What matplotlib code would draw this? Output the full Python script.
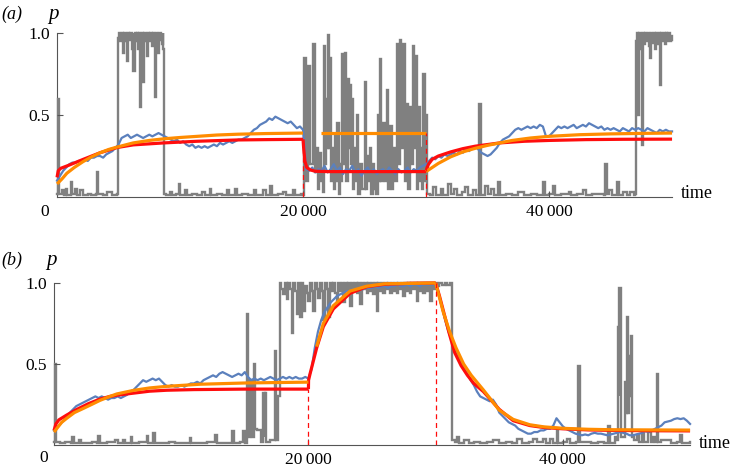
import os
import numpy as np
import matplotlib
matplotlib.use("Agg")
import matplotlib.pyplot as plt
from matplotlib import font_manager as fm

FONT_DIR = '/usr/share/fonts/truetype/liberation/'


def serif(size, italic=False):
    fname = FONT_DIR + ('LiberationSerif-Italic.ttf' if italic else 'LiberationSerif-Regular.ttf')
    if os.path.exists(fname):
        return fm.FontProperties(fname=fname, size=size)
    return fm.FontProperties(family='serif', style='italic' if italic else 'normal', size=size)


# ---- data ----
x_ticks = [20000, 40000]
x_tick_labels = ['20\u2009000', '40\u2009000']
y_ticks = [0.5, 1.0]
y_tick_labels = ['0.5', '1.0']
switch_times = [20000, 30000]

# gray raw signal, panel (a): (time, p), each value held until the next time
gray_a = [
    (0, 0.02), (60, 0.60), (140, 0.02), (400, 0.04), (550, 0.01), (700, 0.05), (850, 0.01),
    (1100, 0.01), (1170, 0.09), (1250, 0.02), (1500, 0.05), (1650, 0.01), (1900, 0.04), (2100, 0.01),
    (2500, 0.02), (2800, 0.01), (3150, 0.02), (3230, 0.15), (3320, 0.02), (3700, 0.01), (4100, 0.03),
    (4500, 0.01), (4800, 0.01),
    (4880, 0.02), (4960, 0.97), (5050, 1.0), (5150, 0.95), (5250, 1.0), (5393, 0.88), (5480, 1.0),
    (5570, 0.95), (5664, 0.83), (5750, 1.0), (5850, 0.96), (5950, 1.0), (6070, 0.9), (6150, 1.0),
    (6206, 0.77), (6300, 1.0), (6400, 0.95), (6500, 1.0), (6612, 0.9), (6680, 1.0), (6748, 0.55),
    (6830, 0.96), (6920, 1.0), (7019, 0.7), (7100, 1.0), (7200, 0.95), (7290, 0.86), (7380, 1.0),
    (7480, 0.95), (7580, 1.0), (7697, 0.92), (7780, 1.0), (7880, 0.96), (7967, 0.61), (8050, 1.0),
    (8150, 0.95), (8238, 0.88), (8330, 1.0), (8430, 0.96), (8509, 0.93), (8580, 1.0), (8640, 0.9),
    (8700, 0.02),
    (8900, 0.01), (9200, 0.03), (9350, 0.01), (9700, 0.02), (9900, 0.08), (10000, 0.01), (10400, 0.04),
    (10600, 0.01), (11000, 0.02), (11400, 0.01), (11800, 0.03), (12000, 0.01), (12400, 0.05),
    (12550, 0.01), (13000, 0.02), (13400, 0.01), (13800, 0.04), (14000, 0.01), (14500, 0.05),
    (14650, 0.01), (15000, 0.02), (15500, 0.01), (16000, 0.04), (16200, 0.01), (16780, 0.04),
    (17000, 0.01), (17320, 0.07), (17450, 0.01), (18000, 0.02), (18400, 0.03), (18600, 0.01),
    (19200, 0.04), (19350, 0.01), (19800, 0.02), (20000, 0.01),
    (20100, 0.85), (20250, 0.1), (20400, 0.80), (20570, 0.2), (20840, 0.93), (20950, 0.15),
    (21111, 0.3), (21200, 0.05), (21301, 0.27), (21420, 0.1), (21520, 0.15), (21600, 0.03),
    (21707, 0.92), (21800, 0.2), (21870, 0.6), (21960, 0.3), (22060, 0.99), (22130, 0.3),
    (22195, 0.85), (22300, 0.1), (22412, 0.3), (22500, 0.05), (22601, 0.37), (22700, 0.1),
    (22791, 0.45), (22900, 0.02), (23008, 0.2), (23080, 0.1), (23143, 0.87), (23210, 0.3),
    (23279, 0.6), (23350, 0.2), (23414, 0.88), (23500, 0.1), (23685, 0.72), (23750, 0.3),
    (23821, 0.68), (23890, 0.2), (23956, 0.6), (24050, 0.05), (24146, 0.3), (24250, 0.1),
    (24363, 0.5), (24500, 0.02), (24634, 0.2), (24800, 0.05), (25040, 0.70), (25130, 0.05),
    (25230, 0.25), (25350, 0.1), (25447, 0.3), (25560, 0.02), (25664, 0.2), (25760, 0.05),
    (25853, 0.14), (25950, 0.02), (26070, 0.5), (26160, 0.1), (26260, 0.84), (26350, 0.1),
    (26531, 0.45), (26650, 0.1), (26802, 0.65), (26900, 0.05), (27073, 0.43), (27200, 0.05),
    (27344, 0.3), (27480, 0.1), (27615, 0.93), (27750, 0.2), (27886, 0.96), (28000, 0.3),
    (28157, 0.93), (28280, 0.1), (28428, 0.57), (28550, 0.05), (28699, 0.55), (28830, 0.2),
    (28970, 0.92), (29060, 0.3), (29160, 0.86), (29260, 0.05), (29377, 0.55), (29470, 0.1),
    (29566, 0.3), (29680, 0.05), (29783, 0.75), (29900, 0.1), (30000, 0.5), (30050, 0.02),
    (30300, 0.01), (30600, 0.06), (30800, 0.01), (31200, 0.05), (31400, 0.01), (31800, 0.08),
    (32000, 0.02), (32300, 0.05), (32500, 0.01), (32900, 0.03), (33200, 0.06), (33400, 0.01),
    (33800, 0.04), (34100, 0.01), (34330, 0.57), (34450, 0.01), (34800, 0.07), (35000, 0.02),
    (35300, 0.05), (35500, 0.01), (35880, 0.09), (36000, 0.01), (36500, 0.02), (37000, 0.01),
    (37500, 0.03), (38000, 0.01), (38500, 0.02), (39000, 0.01), (39540, 0.09), (39650, 0.01),
    (40000, 0.02), (40350, 0.07), (40450, 0.01), (41000, 0.02), (41600, 0.03), (41800, 0.01),
    (42300, 0.02), (42800, 0.04), (43000, 0.01), (43500, 0.02), (44000, 0.02), (44500, 0.01),
    (44580, 0.20), (44680, 0.02), (44900, 0.04), (45100, 0.01), (45500, 0.09), (45650, 0.01),
    (46000, 0.03), (46300, 0.01), (46600, 0.03), (46900, 0.01),
    (47000, 0.02), (47070, 0.95), (47150, 1.0), (47250, 0.5), (47350, 1.0), (47450, 0.9),
    (47530, 0.32), (47620, 1.0), (47720, 0.93), (47820, 1.0), (47920, 0.95), (48020, 1.0),
    (48110, 0.92), (48210, 0.85), (48300, 1.0), (48400, 0.94), (48500, 1.0), (48600, 0.9),
    (48700, 1.0), (48800, 0.93), (48900, 1.0), (49020, 0.68), (49120, 1.0), (49220, 0.95),
    (49320, 1.0), (49420, 0.93), (49520, 1.0), (49620, 0.95), (49700, 1.0), (49800, 0.95),
    (49900, 0.98), (50000, 0.96),
]

# gray raw signal, panel (b)
gray_b = [
    (0, 0.02), (80, 0.5), (180, 0.02), (500, 0.01), (900, 0.02), (1300, 0.01), (1440, 0.05),
    (1550, 0.01), (1990, 0.03), (2100, 0.01), (2600, 0.01), (3000, 0.02), (3400, 0.01),
    (3490, 0.055), (3600, 0.01), (4200, 0.02), (4800, 0.03), (5000, 0.01), (5400, 0.03),
    (5600, 0.01), (6020, 0.05), (6150, 0.01), (6700, 0.02), (7290, 0.055), (7400, 0.01),
    (7810, 0.076), (7950, 0.01), (8500, 0.01), (9000, 0.02), (9500, 0.01), (10200, 0.01),
    (10690, 0.045), (10800, 0.01), (11500, 0.01), (12000, 0.02), (12650, 0.06), (12780, 0.01),
    (13400, 0.01), (14020, 0.086), (14150, 0.01), (14600, 0.02), (14880, 0.086), (14980, 0.01),
    (15150, 0.81), (15280, 0.05), (15400, 0.4), (15540, 0.05), (15700, 0.5), (15800, 0.1),
    (15930, 0.09), (16190, 0.09), (16300, 0.02), (16450, 0.32), (16550, 0.05), (16600, 0.32),
    (16700, 0.02), (17000, 0.03), (17240, 0.03), (17370, 0.58), (17480, 0.03), (17620, 0.3),
    (17760, 1.0), (17880, 0.96), (18020, 0.93), (18150, 1.0), (18290, 0.9), (18400, 1.0),
    (18550, 0.96), (18680, 0.69), (18800, 1.0), (18940, 0.95), (19080, 0.81), (19200, 1.0),
    (19340, 0.79), (19470, 1.0), (19600, 0.83), (19720, 0.98), (19850, 0.94), (19990, 0.89),
    (20120, 1.0), (20250, 0.95), (20380, 0.83), (20500, 1.0), (20640, 0.96), (20780, 0.91),
    (20900, 1.0), (21040, 0.95), (21170, 0.77), (21300, 1.0), (21430, 0.96), (21560, 0.79),
    (21700, 1.0), (21830, 0.95), (21960, 1.0), (22090, 0.94), (22220, 0.89), (22350, 1.0),
    (22480, 0.95), (22610, 1.0), (22740, 0.88), (22870, 1.0), (23000, 0.96), (23130, 1.0),
    (23270, 0.86), (23400, 1.0), (23530, 0.95), (23660, 1.0), (23790, 0.94), (23920, 1.0),
    (24050, 0.87), (24180, 1.0), (24310, 0.96), (24440, 1.0), (24570, 0.94), (24700, 1.0),
    (24830, 0.95), (24960, 1.0), (25100, 0.93), (25230, 1.0), (25360, 0.83), (25490, 1.0),
    (25620, 0.95), (25750, 1.0), (25880, 0.94), (26010, 1.0), (26140, 0.96), (26270, 1.0),
    (26410, 0.94), (26540, 1.0), (26670, 0.95), (26800, 1.0), (26930, 0.94), (27060, 1.0),
    (27190, 0.96), (27320, 1.0), (27450, 0.92), (27580, 1.0), (27710, 0.95), (27840, 1.0),
    (27970, 0.94), (28100, 1.0), (28230, 0.96), (28360, 1.0), (28500, 0.89), (28630, 1.0),
    (28760, 0.95), (28890, 1.0), (29020, 0.94), (29150, 1.0), (29280, 0.95), (29410, 1.0),
    (29550, 0.89), (29680, 1.0), (29810, 0.96), (29940, 1.0), (30100, 0.98), (30300, 1.0),
    (30500, 0.99), (30700, 1.0), (30900, 0.99), (31130, 1.0),
    (31260, 0.03), (31500, 0.02), (31650, 0.05), (31800, 0.01), (32200, 0.03), (32600, 0.01),
    (33000, 0.02), (33500, 0.01), (34000, 0.02), (34530, 0.03), (35000, 0.01), (35500, 0.02),
    (36000, 0.01), (36370, 0.04), (36800, 0.01), (37300, 0.02), (37650, 0.04), (38000, 0.02),
    (38440, 0.04), (38700, 0.01), (38990, 0.04), (39200, 0.01), (39510, 0.09), (39650, 0.01),
    (40000, 0.02), (40300, 0.04), (40600, 0.01), (41000, 0.02), (41210, 0.49), (41340, 0.02),
    (41800, 0.02), (42200, 0.01), (42800, 0.02), (43200, 0.01), (43570, 0.12), (43700, 0.01),
    (44090, 0.05), (44200, 0.03), (44310, 0.73), (44380, 0.3), (44440, 0.97), (44560, 0.05),
    (44700, 0.05), (44880, 0.39), (44940, 0.2), (45010, 0.79), (45120, 0.2), (45220, 0.55),
    (45280, 0.3), (45350, 0.67), (45460, 0.05), (45600, 0.03), (45800, 0.06), (46000, 0.02),
    (46200, 0.07), (46400, 0.02), (46700, 0.08), (46900, 0.02), (47100, 0.05), (47250, 0.02),
    (47370, 0.44), (47480, 0.02), (47700, 0.03), (48150, 0.03), (48500, 0.01), (49000, 0.02),
    (49200, 0.06), (49350, 0.01), (50000, 0.02),
]

# blue running estimate, sampled every 250 time units from 0 to 50000
blue_t = np.arange(0, 50001, 250)
blue_a = [
    0.10, 0.13, 0.16, 0.18, 0.20, 0.21, 0.21, 0.22, 0.22, 0.23, 0.22, 0.24, 0.24, 0.25, 0.25, 0.24, 0.26, 0.27, 0.28, 0.30,
    0.32, 0.36, 0.37, 0.38, 0.36, 0.37, 0.38, 0.37, 0.36, 0.37, 0.38, 0.37, 0.38, 0.39, 0.38, 0.37, 0.36, 0.35, 0.34, 0.35,
    0.33, 0.34, 0.32, 0.31, 0.32, 0.30, 0.31, 0.30, 0.31, 0.30, 0.31, 0.32, 0.31, 0.33, 0.32, 0.33, 0.34, 0.33, 0.34, 0.35,
    0.35, 0.36, 0.37, 0.39, 0.41, 0.42, 0.44, 0.45, 0.46, 0.48, 0.47, 0.49, 0.48, 0.47, 0.46, 0.45, 0.46, 0.44, 0.42, 0.43,
    0.41, 0.17, 0.16, 0.18, 0.15, 0.17, 0.16, 0.19, 0.15, 0.17, 0.20, 0.16, 0.18, 0.14, 0.17, 0.16, 0.19, 0.15, 0.17, 0.13,
    0.16, 0.18, 0.15, 0.17, 0.14, 0.16, 0.17, 0.15, 0.18, 0.16, 0.14, 0.17, 0.15, 0.16, 0.18, 0.15, 0.17, 0.16, 0.18, 0.19,
    0.20, 0.22, 0.24, 0.23, 0.25, 0.24, 0.26, 0.25, 0.26, 0.27, 0.26, 0.28, 0.27, 0.29, 0.28, 0.30, 0.31, 0.29, 0.27, 0.26,
    0.25, 0.26, 0.28, 0.30, 0.33, 0.35, 0.36, 0.37, 0.39, 0.41, 0.42, 0.41, 0.42, 0.43, 0.42, 0.43, 0.42, 0.44, 0.43, 0.37,
    0.37, 0.39, 0.41, 0.43, 0.42, 0.43, 0.42, 0.43, 0.44, 0.42, 0.43, 0.44, 0.43, 0.45, 0.44, 0.43, 0.42, 0.43, 0.41, 0.42,
    0.41, 0.42, 0.41, 0.40, 0.42, 0.41, 0.40, 0.42, 0.41, 0.42, 0.41, 0.40, 0.42, 0.41, 0.40, 0.39, 0.41, 0.40, 0.41, 0.40,
    0.40,
]
blue_b = [
    0.09, 0.11, 0.13, 0.15, 0.18, 0.20, 0.22, 0.24, 0.25, 0.26, 0.27, 0.28, 0.29, 0.30, 0.29, 0.30, 0.29, 0.28, 0.29, 0.29,
    0.30, 0.29, 0.30, 0.31, 0.33, 0.34, 0.36, 0.38, 0.40, 0.39, 0.40, 0.41, 0.40, 0.41, 0.39, 0.37, 0.36, 0.37, 0.36, 0.36,
    0.37, 0.36, 0.37, 0.38, 0.38, 0.39, 0.38, 0.40, 0.41, 0.42, 0.43, 0.42, 0.44, 0.45, 0.44, 0.43, 0.42, 0.43, 0.44, 0.43,
    0.45, 0.42, 0.40, 0.41, 0.40, 0.41, 0.40, 0.41, 0.42, 0.41, 0.40, 0.41, 0.42, 0.41, 0.42, 0.41, 0.42, 0.41, 0.41, 0.42,
    0.41, 0.47, 0.60, 0.70, 0.77, 0.82, 0.85, 0.88, 0.90, 0.92, 0.93, 0.94, 0.95, 0.95, 0.96, 0.96, 0.97, 0.96, 0.97, 0.97,
    0.97, 0.98, 0.97, 0.98, 0.98, 0.97, 0.98, 0.98, 0.99, 0.98, 0.98, 0.99, 0.98, 0.99, 0.99, 0.98, 0.99, 0.99, 0.99, 0.99,
    0.99, 0.93, 0.85, 0.77, 0.70, 0.65, 0.60, 0.55, 0.51, 0.47, 0.44, 0.40, 0.37, 0.33, 0.30, 0.29, 0.28, 0.27, 0.28, 0.25,
    0.20, 0.18, 0.16, 0.14, 0.13, 0.12, 0.10, 0.09, 0.08, 0.07, 0.07, 0.08, 0.08, 0.09, 0.09, 0.10, 0.10, 0.12, 0.165, 0.14,
    0.115, 0.10, 0.09, 0.08, 0.07, 0.065, 0.06, 0.065, 0.06, 0.07, 0.075, 0.07, 0.07, 0.065, 0.06, 0.065, 0.07, 0.075, 0.08, 0.075,
    0.07, 0.06, 0.06, 0.065, 0.07, 0.075, 0.085, 0.08, 0.09, 0.10, 0.11, 0.12, 0.14, 0.145, 0.15, 0.16, 0.165, 0.16, 0.165, 0.15,
    0.13,
]

# red model curve, panel (a), one list per segment
red_a = [
    [(0, 0.12), (100, 0.16), (300, 0.175), (1000, 0.195), (2140, 0.23), (3500, 0.27), (4900, 0.302),
     (6200, 0.318), (8700, 0.33), (11400, 0.34), (14700, 0.348), (17000, 0.35), (20000, 0.352)],
    [(20000, 0.352), (20050, 0.30), (20150, 0.22), (20300, 0.18), (20600, 0.165), (21000, 0.157),
     (22000, 0.155), (30000, 0.155)],
    [(30000, 0.155), (30050, 0.17), (30200, 0.2), (30500, 0.23), (31000, 0.25), (32000, 0.275),
     (33000, 0.295), (34000, 0.31), (35000, 0.32), (36000, 0.33), (38000, 0.34), (40000, 0.345),
     (43000, 0.35), (46000, 0.352), (50000, 0.353)],
]
orange_a = [
    [(0, 0.08), (400, 0.11), (800, 0.145), (1400, 0.18), (2100, 0.215), (2800, 0.245), (3500, 0.27),
     (4200, 0.29), (4900, 0.305), (6200, 0.33), (7500, 0.345), (8700, 0.355), (10000, 0.363),
     (11400, 0.37), (13000, 0.378), (14700, 0.383), (17000, 0.387), (20000, 0.39)],
    [(21500, 0.39), (30000, 0.39)],
    [(30000, 0.155), (30500, 0.18), (31000, 0.205), (31500, 0.225), (32000, 0.245), (33000, 0.275),
     (34000, 0.297), (35000, 0.315), (36000, 0.33), (37000, 0.345), (38500, 0.36), (40000, 0.37),
     (42500, 0.38), (45000, 0.385), (47500, 0.388), (50000, 0.39)],
]
red_b = [
    [(0, 0.09), (150, 0.13), (380, 0.155), (1000, 0.185), (1800, 0.22), (2700, 0.255), (3600, 0.283),
     (4400, 0.30), (5000, 0.308), (6240, 0.32), (7500, 0.332), (8860, 0.338), (11000, 0.342),
     (15000, 0.345), (20000, 0.345)],
    [(20000, 0.345), (20010, 0.40), (20130, 0.44), (20650, 0.60), (21170, 0.73), (21960, 0.84),
     (23270, 0.936), (24580, 0.977), (26000, 0.992), (28000, 0.998), (30000, 1.0)],
    [(30000, 1.0), (30300, 0.92), (30700, 0.80), (31100, 0.68), (31500, 0.57), (32000, 0.49),
     (32500, 0.43), (33000, 0.38), (33750, 0.33), (35000, 0.22), (36100, 0.15), (37400, 0.12),
     (38500, 0.108), (40000, 0.10), (42000, 0.093), (44000, 0.09), (47000, 0.088), (50000, 0.087)],
]
orange_b = [
    [(0, 0.08), (300, 0.11), (600, 0.14), (1000, 0.165), (1600, 0.2), (2310, 0.226), (3000, 0.252),
     (3600, 0.275), (4400, 0.30), (4930, 0.315), (6240, 0.337), (7500, 0.352), (8860, 0.362),
     (11480, 0.375), (15150, 0.383), (20000, 0.388)],
    [(20650, 0.607), (21170, 0.75), (21960, 0.86), (23270, 0.95), (24580, 0.98), (26000, 0.995),
     (30000, 1.0)],
    [(30000, 1.0), (30600, 0.82), (31100, 0.70), (31600, 0.60), (32200, 0.50), (32800, 0.43),
     (33750, 0.34), (35000, 0.215), (36100, 0.158), (37400, 0.125), (38500, 0.112), (40000, 0.103),
     (42000, 0.097), (44000, 0.094), (47000, 0.093), (50000, 0.092)],
]
# height of red dashed markers at the switch times
dash_top_a = [0.352, 0.39]
dash_top_b = [0.345, 1.0]

GRAY = '#808080'
BLUE = '#5b80bd'
RED = '#ff0d0d'
ORANGE = '#ff8c00'
AXIS = '#555555'

fig = plt.figure(figsize=(7.32, 4.71), dpi=100)
ax_a = fig.add_axes([0.0779, 0.5817, 0.8402, 0.3482])
ax_b = fig.add_axes([0.0738, 0.0552, 0.8689, 0.3440])


def draw_panel(ax, gray, blue, reds, oranges, dash_tops):
    gt, gp = zip(*gray)
    ax.plot(gt, gp, color=GRAY, lw=1.7, zorder=1, clip_on=False, drawstyle='steps-post',
            solid_joinstyle='miter')
    ax.plot(blue_t, blue, color=BLUE, lw=1.6, zorder=2, clip_on=False)
    for seg in reds:
        t, p = zip(*seg)
        ax.plot(t, p, color=RED, lw=2.3, zorder=3, clip_on=False, solid_capstyle='butt')
    for seg in oranges:
        t, p = zip(*seg)
        ax.plot(t, p, color=ORANGE, lw=2.3, zorder=4, clip_on=False, solid_capstyle='butt')
    for ts, top in zip(switch_times, dash_tops):
        ax.plot([ts, ts], [0, top], color=RED, lw=0.9, ls=(0, (4, 3)), zorder=5)

    ax.set_xlim(0, 50000)
    ax.set_ylim(0, 1.0)
    for s in ['top', 'right']:
        ax.spines[s].set_visible(False)
    for s in ['left', 'bottom']:
        ax.spines[s].set_color(AXIS)
        ax.spines[s].set_linewidth(0.8)
        ax.spines[s].set_zorder(0)
    ax.set_xticks(x_ticks)
    ax.set_xticklabels(x_tick_labels, fontproperties=serif(12.5))
    ax.set_yticks(y_ticks)
    ax.set_yticklabels(y_tick_labels, fontproperties=serif(12.5))
    ax.tick_params(direction='in', length=4, width=0.8, color=AXIS)
    ax.tick_params(axis='x', pad=5)
    ax.tick_params(axis='y', pad=5)
    ax.patch.set_visible(False)


draw_panel(ax_a, gray_a, blue_a, red_a, orange_a, dash_top_a)
draw_panel(ax_b, gray_b, blue_b, red_b, orange_b, dash_top_b)

W, H = 732, 471


def ftext(x, y, s, size, italic=False):
    fig.text(x / W, 1 - y / H, s, ha='center', va='center', fontproperties=serif(size, italic))


ftext(12, 14, '(a)', 13, italic=True)
ftext(53, 15, 'p', 15, italic=True)
ftext(45, 212, '0', 12.5)
ftext(697, 194, 'time', 13)

ftext(12, 260, '(b)', 13, italic=True)
ftext(51, 261, 'p', 15, italic=True)
ftext(44, 458, '0', 12.5)
ftext(715, 443, 'time', 13)

fig.savefig('out.png', dpi=100)
